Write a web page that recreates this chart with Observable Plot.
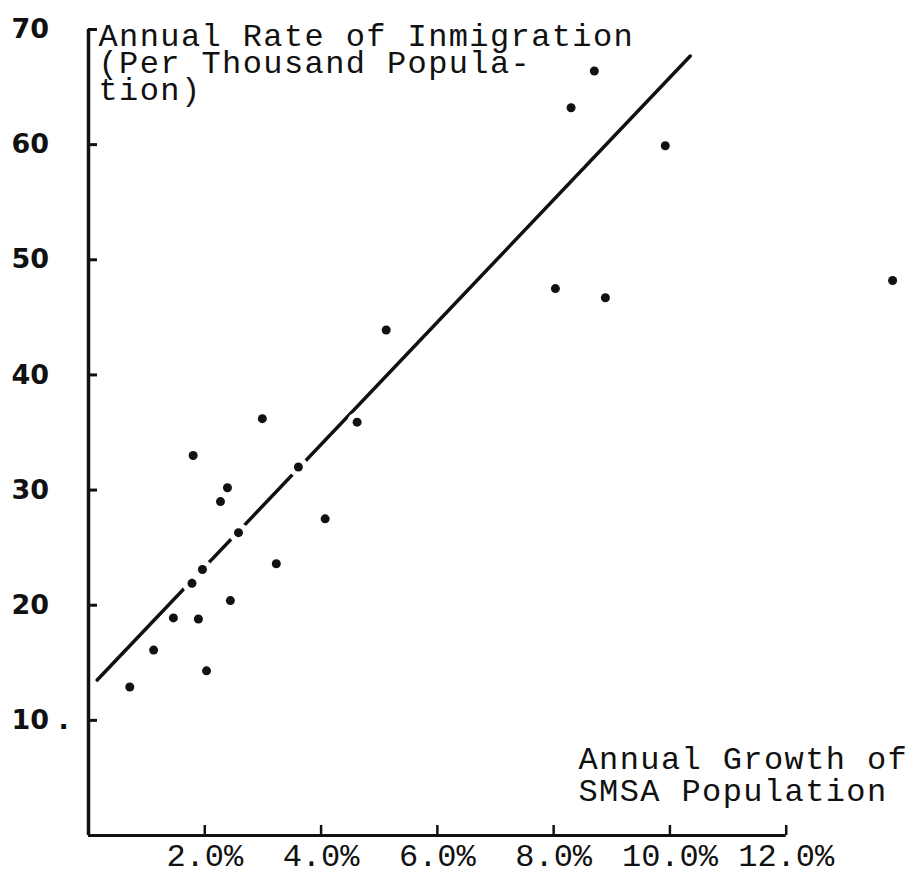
<!DOCTYPE html>
<html>
<head>
<meta charset="utf-8">
<script src="https://cdn.jsdelivr.net/npm/d3@7"></script>
<script src="https://cdn.jsdelivr.net/npm/@observablehq/plot@0.6"></script>
<style>
  body { margin: 0; background: #fff; }
  #chart svg { display: block; }
</style>
</head>
<body>
<div id="chart"></div>
<script>
// Annual growth of SMSA population (%) and annual rate of immigration (per thousand)
const growth = [0.71, 1.12, 1.46, 1.78, 1.80, 1.89, 1.96, 2.03, 2.27, 2.39, 2.44, 2.58,
                2.99, 3.23, 3.61, 4.07, 4.62, 5.12, 8.03, 8.30, 8.70, 8.89, 9.92, 13.83];
const immigration = [12.9, 16.1, 18.9, 21.9, 33.0, 18.8, 23.1, 14.3, 29.0, 30.2, 20.4, 26.3,
                     36.2, 23.6, 32.0, 27.5, 35.9, 43.9, 47.5, 63.2, 66.4, 46.7, 59.9, 48.2];
// Fitted regression line (end points)
const fitX = [0.15, 10.35];
const fitY = [13.5, 67.7];
// Axis ticks and labels
const xTicks = [2, 4, 6, 8, 10, 12];
const xTickLabels = ["2.0%", "4.0%", "6.0%", "8.0%", "10.0%", "12.0%"];
const yTicks = [10, 20, 30, 40, 50, 60, 70];
const yTickLabels = ["10 .", "20", "30", "40", "50", "60", "70"];
const yTitle = "Annual Rate of Inmigration\n(Per Thousand Popula-\ntion)";
const xTitle = "Annual Growth of\nSMSA Population";

const points = growth.map((x, i) => ({x, y: immigration[i]}));
const fit = fitX.map((x, i) => ({x, y: fitY[i]}));
const ink = "#111";
const mono = "Liberation Mono";

const chart = Plot.plot({
  width: 911,
  height: 877,
  marginLeft: 88,
  marginRight: 9,
  marginTop: 29,
  marginBottom: 42,
  x: {domain: [0, 14], label: null},
  y: {domain: [0, 70], label: null},
  style: {background: "#fff", color: ink},
  marks: [
    Plot.line(fit, {x: "x", y: "y", stroke: ink, strokeWidth: 3.5}),
    Plot.dot(points, {x: "x", y: "y", r: 10, fill: "#fff"}),
    Plot.dot(points, {x: "x", y: "y", r: 4.5, fill: ink}),
    Plot.ruleX([0], {y1: 0, y2: d3.max(yTicks), stroke: ink, strokeWidth: 3.5}),
    Plot.ruleY([0], {x1: 0, x2: d3.max(xTicks), stroke: ink, strokeWidth: 3}),
    Plot.axisY({ticks: yTicks, tickSize: -9, strokeWidth: 3, tickFormat: () => ""}),
    Plot.axisY({ticks: yTicks, tickSize: 0, textAnchor: "start", dx: -68, fill: ink,
                tickFormat: d => yTickLabels[yTicks.indexOf(d)]}),
    Plot.axisX({ticks: xTicks, tickSize: -10, strokeWidth: 2.5, tickFormat: () => ""}),
    Plot.axisX({ticks: xTicks, tickSize: 0, tickPadding: 8, fill: ink,
                tickFormat: d => xTickLabels[xTicks.indexOf(d)]}),
    Plot.text([yTitle], {text: d => d, frameAnchor: "top-left", dx: 10, dy: 70, lineAnchor: "bottom",
                         textAnchor: "start", lineHeight: 0.83, fontSize: 32, fill: ink}),
    Plot.text([xTitle], {text: d => d, frameAnchor: "bottom-left", dx: 490, dy: -35, lineAnchor: "bottom",
                         textAnchor: "start", lineHeight: 1.0, fontSize: 32, fill: ink})
  ]
});

// Typefaces: a bold geometric sans for the y numbers, a typewriter-like mono elsewhere
chart.querySelectorAll('g[aria-label="y-axis tick label"]').forEach(g => {
  g.setAttribute("font-family", "DejaVu Sans");
  g.setAttribute("font-size", 27);
  g.setAttribute("font-weight", "bold");
  g.style.fontFamily = "DejaVu Sans";
  g.style.fontSize = "27px";
  g.style.fontWeight = "bold";
});
chart.querySelectorAll('g[aria-label="x-axis tick label"]').forEach(g => {
  g.setAttribute("font-family", mono);
  g.setAttribute("font-size", 32);
  g.style.fontFamily = mono;
  g.style.fontSize = "32px";
});
chart.querySelectorAll('g[aria-label="text"]').forEach(g => {
  g.setAttribute("font-family", mono);
  g.style.fontFamily = mono;
  g.style.letterSpacing = "1.4px";
});
document.getElementById("chart").appendChild(chart);
</script>
</body>
</html>
